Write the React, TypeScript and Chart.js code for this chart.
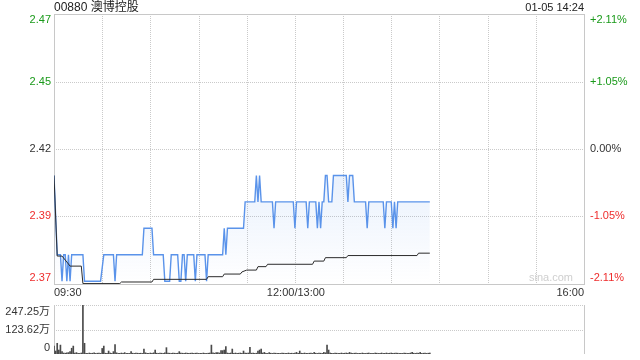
import React, { useEffect, useRef } from "react";
import { Chart, registerables } from "chart.js";

Chart.register(...registerables);

// ---------- data ----------
const stockTitle = "00880 澳博控股";
const stampText = "01-05 14:24";
const prevClose = 2.42;
const pctLevels = [0.0211, 0.0105, 0, -0.0105, -0.0211];
const priceTickLabels = ["2.47", "2.45", "2.42", "2.39", "2.37"];
const pctTickLabels = ["+2.11%", "+1.05%", "0.00%", "-1.05%", "-2.11%"];
const sessionMinutes = 330;
const gridMinutes = [30, 60, 90, 120, 150, 180, 210, 240, 270, 300];
const timeTickMinutes = [0, 150, 330];
const timeTickLabels = ["09:30", "12:00/13:00", "16:00"];
const volMax = 247.25;
const volTickValues = [247.25, 123.62, 0];
const volTickLabels = ["247.25万", "123.62万", "0"];
const watermark = "sina.com";

// price turning points (minute index since 09:30, lunch removed)
const priceMinutes = [
  0, 2, 4, 5, 6, 7, 8, 9, 10, 11, 18, 19, 29, 31, 37, 38, 39, 55, 56, 61, 62, 68, 69, 72, 73,
  77, 78, 79, 80, 81, 82, 83, 87, 88, 89, 94, 95, 96, 105, 106, 107, 108, 118, 119, 125, 126,
  127, 128, 129, 136, 137, 138, 149, 150, 151, 157, 158, 159, 163, 164, 165, 166, 167, 168,
  169, 170, 171, 173, 174, 182, 183, 184, 186, 187, 194, 195, 196, 205, 206, 207, 210, 211,
  212, 213, 214, 234,
];
const priceValues = [
  2.41, 2.38, 2.38, 2.37, 2.38, 2.38, 2.37, 2.38, 2.37, 2.38, 2.38, 2.37, 2.37, 2.38, 2.38, 2.37,
  2.38, 2.38, 2.39, 2.39, 2.38, 2.38, 2.37, 2.37, 2.38,
  2.38, 2.37, 2.37, 2.38, 2.38, 2.37, 2.38, 2.38, 2.37, 2.38, 2.38, 2.37, 2.38, 2.38, 2.39,
  2.38, 2.39, 2.39, 2.4, 2.4, 2.41,
  2.4, 2.41, 2.4, 2.4, 2.39, 2.4, 2.4, 2.39, 2.4, 2.4, 2.39, 2.4, 2.4, 2.39, 2.4, 2.39, 2.4, 2.4,
  2.41, 2.41, 2.4, 2.4, 2.41, 2.41, 2.4, 2.41, 2.41, 2.4, 2.4, 2.39, 2.4, 2.4, 2.39, 2.4, 2.4, 2.39,
  2.4, 2.39, 2.4, 2.4,
];

// average price turning points
const avgMinutes = [
  0, 2, 5, 7, 9, 10, 17, 18, 41, 42, 61, 62, 95, 96, 105, 106, 116, 117, 120, 126, 127, 132,
  133, 161, 162, 168, 169, 182, 183, 226, 227, 234,
];
const avgValues = [
  2.41, 2.3795, 2.3795, 2.378, 2.3765, 2.3757, 2.3757, 2.3691, 2.3691, 2.3697, 2.3697, 2.3707,
  2.3707, 2.3717, 2.3717, 2.3727, 2.3727, 2.3735, 2.3742, 2.3742, 2.3755, 2.3755,
  2.3764, 2.3764, 2.3776, 2.3776, 2.3789, 2.3789, 2.3797, 2.3797, 2.3806, 2.3806,
];

// per-minute volume (万股), minute 0..234
const volumes = [
  40, 15, 54, 20, 45, 12, 5, 4, 6, 7,
  12, 29, 40, 5, 7, 4, 3, 5, 247.25, 54,
  4, 3, 5, 3, 4, 6, 3, 4, 5, 3,
  28, 40, 4, 3, 15, 5, 3, 12, 48, 6,
  3, 4, 5, 3, 7, 3, 4, 3, 12, 4,
  3, 5, 4, 3, 4, 3, 25, 6, 4, 3,
  5, 4, 6, 20, 4, 3, 5, 4, 3, 6,
  32, 5, 4, 3, 5, 4, 3, 4, 12, 5,
  4, 3, 5, 4, 3, 4, 5, 3, 4, 5,
  3, 4, 3, 5, 4, 3, 4, 5, 45, 6,
  4, 7, 7, 5, 17, 17, 20, 38, 5, 4,
  5, 25, 4, 5, 3, 4, 5, 4, 15, 5,
  4, 5, 34, 4, 5, 3, 4, 15, 20, 25,
  5, 8, 4, 3, 7, 4, 3, 5, 4, 3,
  4, 3, 5, 4, 3, 4, 5, 3, 4, 3,
  5, 8, 4, 15, 4, 3, 5, 4, 3, 4,
  5, 3, 8, 4, 3, 5, 4, 3, 8, 6,
  45, 20, 5, 4, 3, 5, 4, 3, 4, 5,
  3, 4, 5, 4, 8, 5, 3, 4, 5, 3,
  4, 3, 5, 4, 3, 4, 5, 3, 4, 3,
  5, 4, 3, 4, 5, 3, 4, 5, 3, 4,
  5, 3, 4, 5, 4, 3, 4, 3, 5, 4,
  3, 4, 5, 8, 4, 3, 5, 4, 8, 3,
  4, 5, 3, 4, 5,
];

// ---------- styles ----------
const GREEN = "#1a9a1a";
const RED = "#ee2c2c";
const DARK = "#333333";
const FONT = '11px "Liberation Sans", Arial, "Noto Sans CJK SC", sans-serif';
const TITLE_FONT = '12px "Liberation Sans", Arial, "Noto Sans CJK SC", sans-serif';
const BORDER = "#c8c8c8";
const DOT = "#cacaca";

function drawText(ctx: CanvasRenderingContext2D, s: string, x: number, y: number, align: CanvasTextAlign, color: string, font = FONT) {
  ctx.font = font;
  ctx.fillStyle = color;
  ctx.textAlign = align;
  ctx.textBaseline = "middle";
  ctx.fillText(s, x, y);
}

function hLine(ctx: CanvasRenderingContext2D, x1: number, x2: number, y: number) {
  const py = Math.round(y) + 0.5;
  ctx.beginPath();
  ctx.moveTo(x1, py);
  ctx.lineTo(x2, py);
  ctx.stroke();
}
function vLine(ctx: CanvasRenderingContext2D, x: number, y1: number, y2: number) {
  const px = Math.round(x) + 0.5;
  ctx.beginPath();
  ctx.moveTo(px, y1);
  ctx.lineTo(px, y2);
  ctx.stroke();
}

const levelColor = (p: number) => (p > 0 ? GREEN : p < 0 ? RED : DARK);

const pricePanelPlugin = {
  id: "pricePanel",
  beforeDatasetsDraw(chart: any) {
    const { ctx, chartArea: a, scales } = chart;
    const x = scales.x;
    const y = scales.y;
    ctx.save();
    ctx.lineWidth = 1;
    ctx.strokeStyle = DOT;
    ctx.setLineDash([1, 1]);
    gridMinutes.forEach((m) => vLine(ctx, x.getPixelForValue(m), a.top, a.bottom));
    pctLevels.forEach((p, i) => {
      if (i === 0 || i === pctLevels.length - 1) return;
      hLine(ctx, a.left, a.right, y.getPixelForValue(prevClose * (1 + p)));
    });
    ctx.setLineDash([]);
    ctx.strokeStyle = BORDER;
    const l = Math.round(a.left), t = Math.round(a.top), r = Math.round(a.right), b = Math.round(a.bottom);
    ctx.strokeRect(l + 0.5, t + 0.5, r - l, b - t);
    drawText(ctx, watermark, a.right - 11, a.bottom - 6, "right", "#cfcfcf");
    ctx.restore();
  },
  afterDraw(chart: any) {
    const { ctx, chartArea: a, scales } = chart;
    const x = scales.x;
    const y = scales.y;
    ctx.save();
    drawText(ctx, stockTitle, a.left, 8, "left", "#222", TITLE_FONT);
    drawText(ctx, stampText, a.right, 8, "right", "#222");
    pctLevels.forEach((p, i) => {
      let py = y.getPixelForValue(prevClose * (1 + p));
      if (i === 0) py = a.top + 6;
      if (i === pctLevels.length - 1) py = a.bottom - 6;
      const c = levelColor(p);
      drawText(ctx, priceTickLabels[i], a.left - 3, py, "right", c);
      drawText(ctx, pctTickLabels[i], a.right + 6, py, "left", c);
    });
    timeTickMinutes.forEach((m, i) => {
      const px = x.getPixelForValue(m);
      const align: CanvasTextAlign = i === 0 ? "left" : i === timeTickMinutes.length - 1 ? "right" : "center";
      drawText(ctx, timeTickLabels[i], i === 1 ? px + 1 : px, a.bottom + 9, align, DARK);
    });
    ctx.restore();
  },
};

const volPanelPlugin = {
  id: "volPanel",
  beforeDatasetsDraw(chart: any) {
    const { ctx, chartArea: a, scales } = chart;
    const y = scales.y;
    ctx.save();
    ctx.lineWidth = 1;
    ctx.strokeStyle = DOT;
    ctx.setLineDash([1, 1]);
    volTickValues.forEach((v, i) => {
      if (i === volTickValues.length - 1) return;
      hLine(ctx, a.left, a.right, y.getPixelForValue(v));
    });
    ctx.setLineDash([]);
    ctx.strokeStyle = BORDER;
    vLine(ctx, a.left, a.top, a.bottom);
    vLine(ctx, a.right, a.top, a.bottom);
    ctx.restore();
  },
  afterDraw(chart: any) {
    const { ctx, chartArea: a, scales } = chart;
    const y = scales.y;
    ctx.save();
    volTickValues.forEach((v, i) => {
      let py = y.getPixelForValue(v);
      if (i === 0) py = a.top + 7;
      if (i === volTickValues.length - 1) py = a.bottom - 6;
      drawText(ctx, volTickLabels[i], a.left - 4, py, "right", DARK);
    });
    ctx.restore();
  },
};

export default function App() {
  const priceRef = useRef<HTMLCanvasElement>(null);
  const volRef = useRef<HTMLCanvasElement>(null);

  useEffect(() => {
    const yMin = prevClose * (1 + pctLevels[pctLevels.length - 1]);
    const yMax = prevClose * (1 + pctLevels[0]);
    const priceTop = Math.max(...priceValues);

    const priceChart = new Chart(priceRef.current as HTMLCanvasElement, {
      type: "line",
      data: {
        datasets: [
          {
            data: avgMinutes.map((m, i) => ({ x: m, y: avgValues[i] })),
            borderColor: "#2b2b2b",
            borderWidth: 1,
            pointRadius: 0,
            fill: false,
            tension: 0,
          },
          {
            data: priceMinutes.map((m, i) => ({ x: m, y: priceValues[i] })),
            borderColor: "#5a93ea",
            borderWidth: 1.4,
            pointRadius: 0,
            tension: 0,
            fill: "start",
            backgroundColor: (c: any) => {
              const ch = c.chart;
              const a = ch.chartArea;
              if (!a) return "rgba(90,147,234,0.06)";
              const top = ch.scales.y.getPixelForValue(priceTop);
              const g = ch.ctx.createLinearGradient(0, top, 0, a.bottom);
              g.addColorStop(0, "rgba(90,147,234,0.13)");
              g.addColorStop(1, "rgba(90,147,234,0)");
              return g;
            },
          },
        ],
      },
      options: {
        animation: false,
        responsive: false,
        maintainAspectRatio: false,
        events: [],
        layout: { padding: { left: 54, right: 56, top: 14, bottom: 16 } },
        plugins: { legend: { display: false }, tooltip: { enabled: false } },
        scales: {
          x: { type: "linear", min: 0, max: sessionMinutes, display: false },
          y: { type: "linear", min: yMin, max: yMax, display: false },
        },
      },
      plugins: [pricePanelPlugin],
    } as any);

    const volChart = new Chart(volRef.current as HTMLCanvasElement, {
      type: "bar",
      data: {
        datasets: [
          {
            data: volumes.map((v, i) => ({ x: i, y: v })),
            backgroundColor: "#4a4a4a",
            borderWidth: 0,
            barThickness: 1,
          },
        ],
      },
      options: {
        animation: false,
        responsive: false,
        maintainAspectRatio: false,
        events: [],
        layout: { padding: { left: 54, right: 56, top: 5, bottom: 6 } },
        plugins: { legend: { display: false }, tooltip: { enabled: false } },
        scales: {
          x: { type: "linear", min: 0, max: sessionMinutes, offset: false, display: false },
          y: { type: "linear", min: 0, max: volMax, display: false },
        },
      },
      plugins: [volPanelPlugin],
    } as any);

    return () => {
      priceChart.destroy();
      volChart.destroy();
    };
  }, []);

  return (
    <div style={{ position: "absolute", left: 0, top: 0, width: 640, height: 360, background: "#fff" }}>
      <canvas
        ref={priceRef}
        width={640}
        height={300}
        style={{ position: "absolute", left: 0, top: 0, width: 640, height: 300 }}
      />
      <canvas
        ref={volRef}
        width={640}
        height={60}
        style={{ position: "absolute", left: 0, top: 300, width: 640, height: 60 }}
      />
    </div>
  );
}
